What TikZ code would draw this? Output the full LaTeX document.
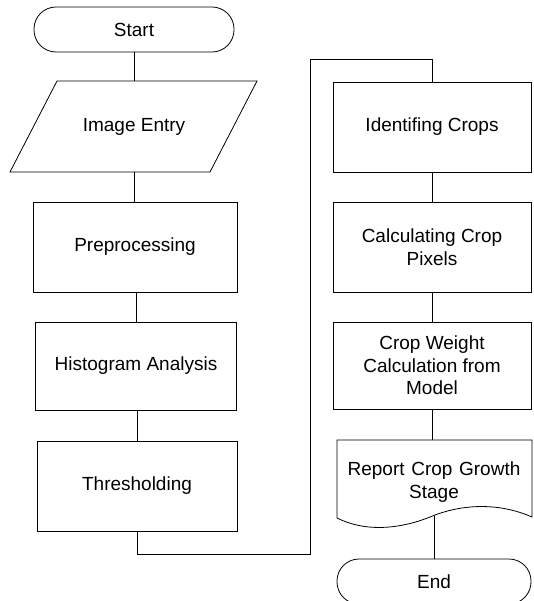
\documentclass[tikz,border=0pt]{standalone}
\usepackage{fontspec}
\setmainfont{Liberation Sans}
\begin{document}
\begin{tikzpicture}[x=1pt,y=-1pt,
  every node/.style={font=\fontsize{19}{22.5}\selectfont, align=center, inner sep=0pt},
  proc/.style={draw, line width=0.8pt, rectangle},
  term/.style={draw, line width=0.8pt, rectangle, rounded corners=22pt},
  line/.style={line width=0.8pt}]
\useasboundingbox (0,0) rectangle (533,601);
% left column
\node[term, minimum width=200pt, minimum height=45pt] (start) at (134,29.5) {Start};
\node[minimum width=153pt, minimum height=91pt] (img) at (134,126.5) {Image Entry};
\draw[line] (10,172) -- (57,81) -- (257,81) -- (210,172) -- cycle;
\node[proc, minimum width=204pt, minimum height=90pt] (pre) at (135,247) {Preprocessing};
\node[proc, minimum width=201pt, minimum height=88pt] (hist) at (136,366) {Histogram Analysis};
\node[proc, minimum width=200pt, minimum height=90pt] (thr) at (137,486) {Thresholding};
% right column
\node[proc, minimum width=198pt, minimum height=90pt] (iden) at (432,127) {Identifing Crops};
\node[proc, minimum width=198pt, minimum height=90pt] (calc) at (432,247) {Calculating Crop\\Pixels};
\node[proc, minimum width=198pt, minimum height=87pt] (wt) at (432,365.5) {Crop Weight\\Calculation from\\Model};
\node (rep) at (434,482) {Report\hspace{0.35em}Crop\hspace{0.35em}Growth\\Stage};
\draw[line] (337,518) -- (337,440) -- (532,440) -- (532,517)
  .. controls (505,505) and (470,502) .. (435,515)
  .. controls (400,530) and (365,532) .. (337,518);
\coordinate (repbot) at (434,516);
\node[term, minimum width=194pt, minimum height=45pt] (end) at (434,581.5) {End};
% connectors
\draw[line] (start.south -| img.north) -- (img.north);
\draw[line] (img.south) -- (img.south |- pre.north);
\draw[line] (pre.south -| hist.north) -- (hist.north);
\draw[line] (hist.south -| thr.north) -- (thr.north);
\coordinate (c1) at (310,554);
\coordinate (c2) at (310,59);
\draw[line] (thr.south) |- (c1) -- (c2) -| (iden.north);
\draw[line] (iden.south) -- (calc.north);
\draw[line] (calc.south) -- (wt.north);
\draw[line] (wt.south) -- (wt.south |- 0,440);
\draw[line] (repbot) -- (end.north);
\end{tikzpicture}
\end{document}
